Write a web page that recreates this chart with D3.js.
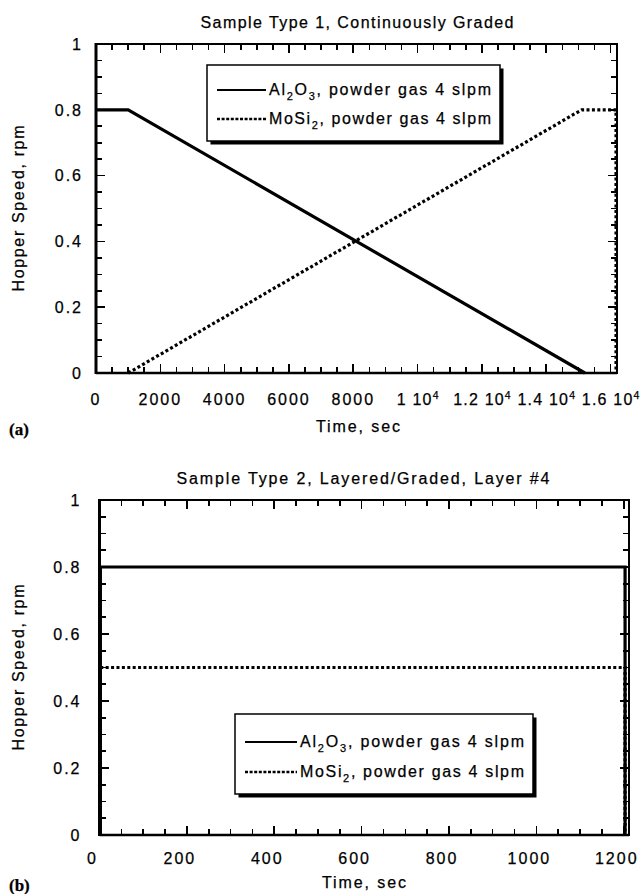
<!DOCTYPE html>
<html><head><meta charset="utf-8">
<script src="https://cdn.jsdelivr.net/npm/d3@7"></script>
<style>
html,body{margin:0;padding:0;background:#fff;}
text{font-family:"Liberation Sans",Arial,Helvetica,sans-serif;fill:#000;stroke:#000;stroke-width:0.25px;}
</style></head>
<body>
<svg id="chart" width="644" height="894"></svg>
<script>
// ---------- data ----------
const titleA = "Sample Type 1, Continuously Graded";
const titleB = "Sample Type 2, Layered/Graded, Layer #4";
const xTitle = "Time, sec";
const yTitle = "Hopper Speed, rpm";

// panel (a)
const timeA_Al = [0, 1000, 15200];
const speedA_Al = [0.8, 0.8, 0];
const timeA_Mo = [1000, 15100, 16170, 16170];
const speedA_Mo = [0, 0.8, 0.8, 0];
const xTicksA = [0, 2000, 4000, 6000, 8000, 10000, 12000, 14000, 16000];
const xMinorA = [0, 500, 1000, 1500, 2000, 2500, 3000, 3500, 4000, 4500, 5000, 5500, 6000, 6500, 7000, 7500, 8000,
  8500, 9000, 9500, 10000, 10500, 11000, 11500, 12000, 12500, 13000, 13500, 14000, 14500, 15000, 15500, 16000];
const xTickLabelsA = ["0", "2000", "4000", "6000", "8000", "1 10^4", "1.2 10^4", "1.4 10^4", "1.6 10^4"];

// panel (b)
const timeB = [2, 2, 1203, 1203];
const speedB_Al = [0, 0.8, 0.8, 0];
const speedB_Mo = [0, 0.5, 0.5, 0];
const xTicksB = [0, 200, 400, 600, 800, 1000, 1200];
const xMinorB = [0, 50, 100, 150, 200, 250, 300, 350, 400, 450, 500, 550, 600, 650, 700, 750, 800, 850, 900, 950,
  1000, 1050, 1100, 1150, 1200];
const xTickLabelsB = ["0", "200", "400", "600", "800", "1000", "1200"];

const yTicks = [0, 0.2, 0.4, 0.6, 0.8, 1];
const yMinor = [0, 0.05, 0.1, 0.15, 0.2, 0.25, 0.3, 0.35, 0.4, 0.45, 0.5, 0.55, 0.6, 0.65, 0.7, 0.75, 0.8, 0.85, 0.9, 0.95, 1];
const yTickLabels = ["0", "0.2", "0.4", "0.6", "0.8", "1"];

// ---------- drawing ----------
const svg = d3.select("#chart");

function drawPanel(cfg) {
  const g = svg.append("g");
  const x = d3.scaleLinear().domain(cfg.xDomain).range([cfg.left, cfg.right]);
  const y = d3.scaleLinear().domain([0, 1]).range([cfg.bottom, cfg.top]);

  const isMajorX = v => cfg.xTicks.indexOf(v) >= 0;
  const isMajorY = v => yTicks.indexOf(v) >= 0;

  // frame + inward ticks as a single path
  const p = d3.path();
  p.rect(cfg.left, cfg.top, cfg.right - cfg.left, cfg.bottom - cfg.top);
  cfg.xMinor.forEach(v => {
    const len = isMajorX(v) ? 9 : 6;
    p.moveTo(x(v), cfg.bottom); p.lineTo(x(v), cfg.bottom - len);
    p.moveTo(x(v), cfg.top); p.lineTo(x(v), cfg.top + len);
  });
  yMinor.forEach(v => {
    const len = isMajorY(v) ? 9 : 6;
    p.moveTo(cfg.left, y(v)); p.lineTo(cfg.left + len, y(v));
    p.moveTo(cfg.right, y(v)); p.lineTo(cfg.right - len, y(v));
  });
  g.append("path").attr("d", p.toString()).attr("fill", "none").attr("stroke", "#000")
    .attr("stroke-width", 1.6).attr("shape-rendering", "crispEdges");
  g.append("line").attr("x1", cfg.left).attr("x2", cfg.left).attr("y1", cfg.top - 1).attr("y2", cfg.bottom + 1)
    .attr("stroke", "#000").attr("stroke-width", 3);
  g.append("line").attr("x1", cfg.left).attr("x2", cfg.right).attr("y1", cfg.bottom).attr("y2", cfg.bottom)
    .attr("stroke", "#000").attr("stroke-width", 2.6);
  g.append("line").attr("x1", cfg.left).attr("x2", cfg.right).attr("y1", cfg.top).attr("y2", cfg.top)
    .attr("stroke", "#000").attr("stroke-width", 2);

  // y tick labels
  g.selectAll("text.ylab").data(yTicks).join("text").attr("class", "ylab")
    .attr("x", cfg.left - cfg.yLabGap).attr("y", d => y(d)).attr("dy", "0.36em")
    .attr("text-anchor", "end").style("font-size", "16px").style("letter-spacing", "2px")
    .text((d, i) => yTickLabels[i]);

  // x tick labels (with superscript handling)
  cfg.xTicks.forEach((t, i) => {
    const lab = cfg.xLabels[i];
    const txt = g.append("text").attr("x", x(t) + cfg.xLabShift).attr("y", cfg.bottom + cfg.xLabDy)
      .attr("text-anchor", "middle").style("font-size", "16px").style("letter-spacing", "2px");
    const parts = lab.split("^");
    if (parts.length === 2) {
      txt.style("letter-spacing", "1.2px");
      txt.append("tspan").text(parts[0]);
      txt.append("tspan").attr("dy", -6).style("font-size", "10.5px").style("letter-spacing", "0px").text(parts[1]);
    } else {
      txt.text(lab);
    }
  });

  // title
  g.append("text").attr("x", cfg.titleX).attr("y", cfg.top - cfg.titleDy)
    .attr("text-anchor", "middle").style("font-size", "16px")
    .attr("textLength", cfg.titleLen).attr("lengthAdjust", "spacing")
    .text(cfg.title);
  // x title
  g.append("text").attr("x", cfg.xTitleX).attr("y", cfg.bottom + cfg.xTitleDy)
    .attr("text-anchor", "middle").style("font-size", "16px")
    .attr("textLength", 84).attr("lengthAdjust", "spacing")
    .text(xTitle);
  // y title
  g.append("text").attr("transform", `translate(${cfg.yTitleX},${(cfg.top + cfg.bottom) / 2}) rotate(-90)`)
    .attr("text-anchor", "middle").style("font-size", "16px")
    .attr("textLength", 166).attr("lengthAdjust", "spacing")
    .text(yTitle);
  // panel label
  g.append("text").attr("x", 9).attr("y", cfg.bottom + cfg.xTitleDy + 3)
    .style("font-family", "'Liberation Serif','Times New Roman',serif").style("font-weight", "bold").style("font-size", "17px")
    .text(cfg.panel);

  // data lines
  const line = d3.line().x(d => x(d[0])).y(d => y(d[1]));
  cfg.series.forEach(s => {
    g.append("path").datum(s.t.map((t, i) => [t, s.v[i]]))
      .attr("d", line).attr("fill", "none").attr("stroke", "#000")
      .attr("stroke-width", 3.2).attr("stroke-linejoin", "miter")
      .attr("stroke-dasharray", s.dashed ? "3,2.4" : null);
  });

  // legend
  const L = cfg.legend;
  g.append("rect").attr("x", L.x + 3.5).attr("y", L.y + 3.5).attr("width", L.w).attr("height", L.h).attr("fill", "#000");
  g.append("rect").attr("x", L.x).attr("y", L.y).attr("width", L.w).attr("height", L.h)
    .attr("fill", "#fff").attr("stroke", "#000").attr("stroke-width", 1.5);
  const entries = [
    {base: ["Al", "2", "O", "3"], dashed: false},
    {base: ["MoSi", "2"], dashed: true}
  ];
  entries.forEach((e, i) => {
    const yy = L.y + L.row0 + i * L.rowGap;
    g.append("line").attr("x1", L.x + 10).attr("x2", L.x + L.sample).attr("y1", yy).attr("y2", yy)
      .attr("stroke", "#000").attr("stroke-width", e.dashed ? 2.6 : 2.2)
      .attr("stroke-dasharray", e.dashed ? "3,1.6" : null);
    const t = g.append("text").attr("x", L.x + L.sample + 3).attr("y", yy + 5)
      .style("font-size", "16px")
      .attr("textLength", L.textLen).attr("lengthAdjust", "spacing");
    e.base.forEach((pp, k) => {
      if (k % 2 === 0) {
        const ts = t.append("tspan").text(pp);
        if (k > 0) ts.attr("dy", -5);
      } else {
        t.append("tspan").attr("dy", 5).style("font-size", "11px").text(pp);
      }
    });
    t.append("tspan").attr("dy", -5).text(", powder gas 4 slpm");
  });
}

drawPanel({
  left: 96, right: 617, top: 44, bottom: 373,
  xDomain: [0, 16200], xMinor: xMinorA, xTicks: xTicksA, xLabels: xTickLabelsA, xLabShift: 0,
  yLabGap: 13, xLabDy: 32, xTitleDy: 59, yTitleX: 24, titleX: 357, titleDy: 16, titleLen: 313, xTitleX: 358,
  title: titleA, panel: "(a)",
  series: [
    {t: timeA_Al, v: speedA_Al, dashed: false},
    {t: timeA_Mo, v: speedA_Mo, dashed: true}
  ],
  legend: {x: 207, y: 65, w: 293, h: 76, sample: 59, row0: 25, rowGap: 29, textLen: 222}
});

drawPanel({
  left: 99.5, right: 629, top: 500, bottom: 835,
  xDomain: [0, 1212], xMinor: xMinorB, xTicks: xTicksB, xLabels: xTickLabelsB, xLabShift: -7,
  yLabGap: 18, xLabDy: 29, xTitleDy: 53, yTitleX: 24, titleX: 363, titleDy: 16, titleLen: 373, xTitleX: 364,
  title: titleB, panel: "(b)",
  series: [
    {t: timeB, v: speedB_Al, dashed: false},
    {t: timeB, v: speedB_Mo, dashed: true}
  ],
  legend: {x: 235, y: 714, w: 298, h: 80, sample: 62, row0: 28, rowGap: 30, textLen: 224}
});
</script>
</body></html>
